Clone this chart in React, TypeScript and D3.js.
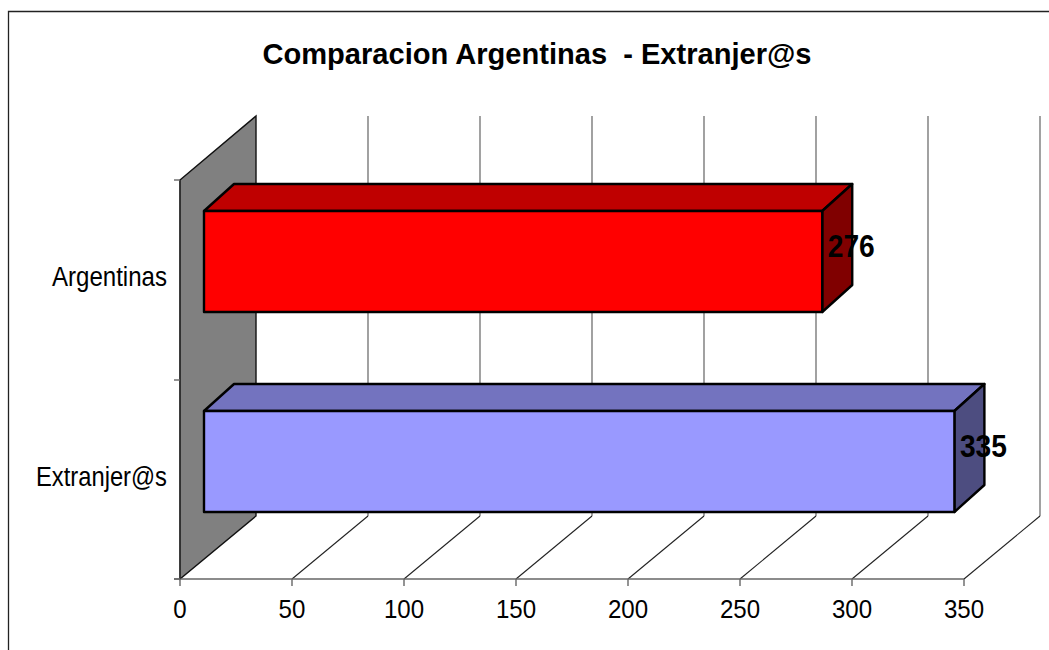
import React from "react";
import * as d3 from "d3";

const categories = ["Argentinas", "Extranjer@s"];
const seriesValues = [276, 335];
const frontColors = ["#ff0000", "#9999ff"];
const topColors = ["#bf0000", "#7373bf"];
const sideColors = ["#800000", "#4d4d80"];
const xTicks = [0, 50, 100, 150, 200, 250, 300, 350];
const chartTitle = "Comparacion Argentinas  - Extranjer@s";

const x = d3.scaleLinear().domain([0, 350]).range([180, 964]);
const y = d3.scaleBand<string>().domain(categories).range([180, 580]);
const depthX = 76, depthY = 64;
const barInsetX = 24, barDX = 30, barDY = 27;
const barTopPad = 31, barHeight = 101;
const font = "'Liberation Sans', Arial, sans-serif";
const pts = (a: number[][]) => a.map((p) => p.join(",")).join(" ");

export default function App() {
  const x0 = x(0), yTop = y.range()[0], yBot = 579;
  return (
    <svg width={1049} height={650} style={{ position: "absolute", left: 0, top: 0, background: "#fff" }}>
      <path d="M8.5,650 V11.5 H1049" fill="none" stroke="#222" strokeWidth={1.3} />
      <text x={537} y={64} textAnchor="middle" fontFamily={font} fontWeight={700} fontSize={30} textLength={549} lengthAdjust="spacingAndGlyphs" style={{ whiteSpace: "pre" }}>{chartTitle}</text>

      <polygon points={pts([[x0, yTop], [x0 + depthX, yTop - depthY], [x0 + depthX, yBot - depthY + 1], [x0, yBot]])} fill="#808080" stroke="#111" strokeWidth={1.4} />

      {xTicks.slice(1).map((t) => (
        <g key={t} fill="none" stroke="#555" strokeWidth={1.1}>
          <line x1={x(t) + depthX} x2={x(t) + depthX} y1={yTop - depthY} y2={yBot - depthY + 1} />
          <line x1={x(t)} x2={x(t) + depthX} y1={yBot} y2={yBot - depthY + 1} stroke="#222" />
        </g>
      ))}

      <line x1={x0 - 6} x2={x(350)} y1={yBot} y2={yBot} stroke="#666" strokeWidth={1.4} />
      <line x1={x0} x2={x0} y1={yTop} y2={yBot} stroke="#333" strokeWidth={1.4} />
      {[yTop, yTop + y.bandwidth(), yBot].map((v) => (
        <line key={v} x1={x0 - 6} x2={x0} y1={v} y2={v} stroke="#666" strokeWidth={1.4} />
      ))}
      {xTicks.map((t) => (
        <g key={t}>
          <line x1={x(t)} x2={x(t)} y1={yBot} y2={yBot + 7} stroke="#666" strokeWidth={1.4} />
          <text x={x(t)} y={618} textAnchor="middle" fontFamily={font} fontSize={26} textLength={String(t).length * 13.4} lengthAdjust="spacingAndGlyphs">{t}</text>
        </g>
      ))}

      {categories.map((c, i) => {
        const left = x0 + barInsetX, right = x(seriesValues[i]) + barInsetX;
        const top = y(c)! + barTopPad, bottom = top + barHeight;
        return (
          <g key={c} stroke="#000" strokeWidth={2.4} strokeLinejoin="round">
            <polygon points={pts([[left, top], [left + barDX, top - barDY], [right + barDX, top - barDY], [right, top]])} fill={topColors[i]} />
            <polygon points={pts([[right, top], [right + barDX, top - barDY], [right + barDX, bottom - barDY], [right, bottom]])} fill={sideColors[i]} />
            <rect x={left} y={top} width={right - left} height={barHeight} fill={frontColors[i]} />
            <text x={right + barDX - 1} y={top + 46} textAnchor="middle" stroke="none" fontFamily={font} fontWeight={700} fontSize={32} textLength={47} lengthAdjust="spacingAndGlyphs">{seriesValues[i]}</text>
            <text x={167} y={top + 75} textAnchor="end" stroke="none" fontFamily={font} fontSize={27.5} textLength={c === "Argentinas" ? 115 : 131} lengthAdjust="spacingAndGlyphs">{c}</text>
          </g>
        );
      })}
    </svg>
  );
}
